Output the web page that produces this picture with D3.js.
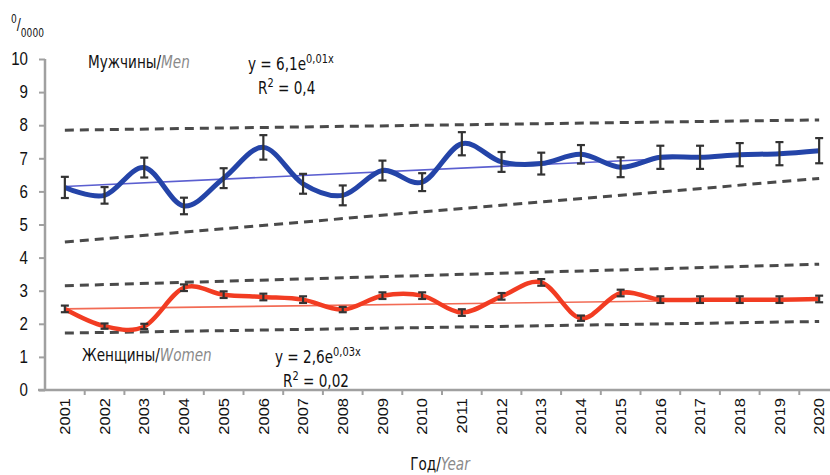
<!DOCTYPE html>
<html><head><meta charset="utf-8">
<script src="https://cdn.jsdelivr.net/npm/d3@7"></script>
<style>
body{margin:0;background:#fff;}
svg{font-family:"Liberation Sans Narrow","DejaVu Sans Condensed","Roboto Condensed",sans-serif;}
</style></head><body>
<svg id="c" width="830" height="475"></svg>
<script>
const years = ["2001","2002","2003","2004","2005","2006","2007","2008","2009","2010","2011","2012","2013","2014","2015","2016","2017","2018","2019","2020"];
const men = [6.12,5.88,6.72,5.56,6.4,7.33,6.23,5.88,6.63,6.28,7.44,6.89,6.84,7.12,6.73,7.03,7.03,7.11,7.14,7.23];
const menErr = [0.32,0.25,0.3,0.25,0.3,0.37,0.3,0.3,0.3,0.27,0.35,0.3,0.33,0.28,0.3,0.35,0.35,0.35,0.35,0.38];
const women = [2.45,1.93,1.92,3.09,2.88,2.81,2.73,2.43,2.85,2.85,2.34,2.83,3.25,2.17,2.93,2.73,2.73,2.73,2.73,2.75];
const womenErr = [0.1,0.08,0.08,0.1,0.1,0.1,0.1,0.08,0.1,0.1,0.1,0.1,0.1,0.08,0.1,0.1,0.1,0.1,0.1,0.1];
const menTrend = [6.15,7.2];        // at 2001, 2020
const womenTrend = [2.45,2.75];
const menUpper = [7.85,8.16];
const menLower = [4.47,6.39];
const womenUpper = [3.15,3.8];
const womenLower = [1.72,2.07];
const yTicks = [0,1,2,3,4,5,6,7,8,9,10];

const svg = d3.select("#c");
const x = d3.scaleBand().domain(years).range([45,839]).padding(0);
const y = d3.scaleLinear().domain([0,10]).range([390,59]);
const cx = d => x(d)+x.bandwidth()/2;
const axisCol = "#a0a0a0";
const SX = 0.84; // condensed look

// y axis
const ya = svg.append("g").attr("transform","translate(45,0)")
  .call(d3.axisLeft(y).tickValues(yTicks).tickSize(6).tickPadding(11).tickFormat(d3.format("d")));
ya.select(".domain").attr("stroke",axisCol).attr("stroke-width",2.5).attr("d","M0,59V390");
ya.selectAll(".tick line").attr("stroke",axisCol).attr("stroke-width",2);
ya.selectAll(".tick text").attr("font-size",18).attr("fill","#111")
  .attr("transform",`translate(-17,0) scale(${SX},1) translate(17,0)`);

// x axis
const xa = svg.append("g").attr("transform","translate(0,390)")
  .call(d3.axisBottom(x).tickSize(0).tickFormat(d=>d));
xa.select(".domain").attr("stroke",axisCol).attr("stroke-width",2.5).attr("d","M38,0H839");
xa.selectAll(".tick text").attr("font-size",16.5).attr("fill","#111")
  .attr("transform",`scale(${SX + 0.06},1) rotate(-90)`).attr("text-anchor","end").attr("dx","-8").attr("dy","0.35em").attr("y",0).attr("x",0);
svg.append("g").selectAll("line").data(years.slice(1)).join("line")
  .attr("x1",d=>x(d)).attr("x2",d=>x(d)).attr("y1",390).attr("y2",395)
  .attr("stroke",axisCol).attr("stroke-width",2);

// dashed bounds
const first = years[0], last = years[years.length-1];
function seg(vals, attrs){
  const l = svg.append("line").attr("x1",cx(first)).attr("x2",cx(last))
    .attr("y1",y(vals[0])).attr("y2",y(vals[1]));
  Object.entries(attrs).forEach(([k,v])=>l.attr(k,v));
}
const dashed = {"stroke":"#4a4a4a","stroke-width":3,"stroke-dasharray":"9,6"};
[menUpper,menLower,womenUpper,womenLower].forEach(v=>seg(v,dashed));

// trend lines
seg(menTrend,{"stroke":"#5b5fd0","stroke-width":1.6});
seg(womenTrend,{"stroke":"#f26b55","stroke-width":1.6});

// series
const line = d3.line().x((d,i)=>cx(years[i])).y(d=>y(d)).curve(d3.curveCardinal.tension(0));
function errs(vals, err){
  const g = svg.append("g").attr("stroke","#333").attr("stroke-width",2.2);
  vals.forEach((v,i)=>{
    const X = cx(years[i]);
    g.append("line").attr("x1",X).attr("x2",X).attr("y1",y(v+err[i])).attr("y2",y(v-err[i]));
    g.append("line").attr("x1",X-4).attr("x2",X+4).attr("y1",y(v+err[i])).attr("y2",y(v+err[i]));
    g.append("line").attr("x1",X-4).attr("x2",X+4).attr("y1",y(v-err[i])).attr("y2",y(v-err[i]));
  });
}
svg.append("path").datum(men).attr("d",line).attr("fill","none").attr("stroke","#2444a8").attr("stroke-width",5);
svg.append("path").datum(women).attr("d",line).attr("fill","none").attr("stroke","#f23c22").attr("stroke-width",4.5);
errs(men,menErr);
errs(women,womenErr);

// condensed text group helper
function tg(xp,yp,anchor){
  return svg.append("g").attr("transform",`translate(${xp},${yp}) scale(${SX},1)`)
    .append("text").attr("x",0).attr("y",0).attr("fill","#111").attr("text-anchor",anchor||"start");
}
function label(xp,yp,a,b,size){
  const t = tg(xp,yp).attr("font-size",size);
  t.append("tspan").text(a);
  t.append("tspan").attr("fill","#8a8a8a").attr("font-style","italic").text(b);
}
label(88,68,"Мужчины/","Men",18);
label(82,361,"Женщины/","Women",18);
function eq(xp,yp,base,exp){
  const t = tg(xp,yp).attr("font-size",18);
  t.append("tspan").text(base);
  t.append("tspan").attr("font-size",13).attr("dy",-7).text(exp);
}
function r2(xp,yp,val){
  const t = tg(xp,yp).attr("font-size",18);
  t.append("tspan").text("R");
  t.append("tspan").attr("font-size",13).attr("dy",-7).text("2");
  t.append("tspan").attr("dy",7).text(" = "+val);
}
eq(248,70,"y = 6,1e","0,01x");
r2(258,94,"0,4");
eq(275,363,"y = 2,6e","0,03x");
r2(283,387,"0,02");

// unit label
const u = tg(11,30).attr("font-size",16);
u.append("tspan").attr("font-size",12).attr("dy",-7).text("0");
u.append("tspan").attr("dy",7).text("/");
u.append("tspan").attr("font-size",12).attr("dy",7).text("0000");

// x title
const xt = tg(440,470,"middle").attr("font-size",18);
xt.append("tspan").text("Год/");
xt.append("tspan").attr("fill","#8a8a8a").attr("font-style","italic").text("Year");
</script></body></html>
